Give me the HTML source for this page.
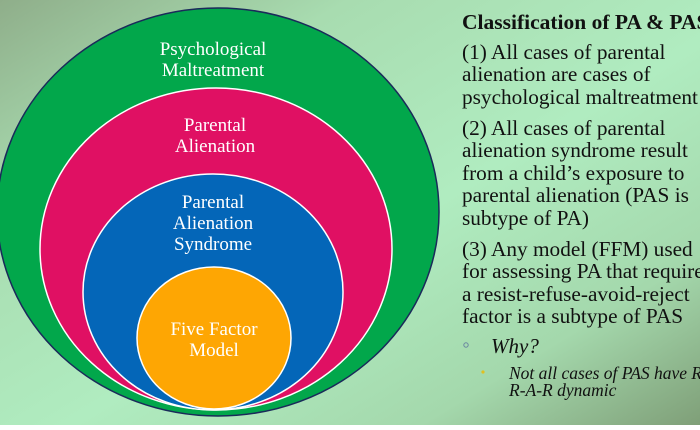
<!DOCTYPE html>
<html><head><meta charset="utf-8"><style>
html,body{margin:0;padding:0;}
body{width:700px;height:425px;overflow:hidden;}
</style></head><body>
<svg width="700" height="425" viewBox="0 0 700 425" xmlns="http://www.w3.org/2000/svg" font-family="Liberation Serif, serif">
<defs>
<linearGradient id="bg" x1="0" y1="0" x2="1" y2="1">
<stop offset="0" stop-color="#8fae8a"/>
<stop offset="0.25" stop-color="#a8dcb0"/>
<stop offset="0.55" stop-color="#b0ecc0"/>
<stop offset="0.8" stop-color="#a4d8ac"/>
<stop offset="1" stop-color="#7f9f78"/>
</linearGradient>
</defs>
<rect width="700" height="425" fill="url(#bg)"/>
<ellipse cx="218" cy="212" rx="221" ry="204" fill="#02a74b" stroke="#1a2a5a" stroke-width="1.5"/>
<ellipse cx="216" cy="249" rx="176" ry="161" fill="#e01063" stroke="#fff" stroke-width="1.5"/>
<ellipse cx="213" cy="292" rx="130" ry="118" fill="#0466b8" stroke="#fff" stroke-width="1.5"/>
<ellipse cx="214" cy="338" rx="77" ry="71" fill="#fea603" stroke="#fff" stroke-width="1.5"/>
<g fill="#fff" font-size="19" text-anchor="middle">
<text x="213" y="55">Psychological</text>
<text x="213" y="76">Maltreatment</text>
<text x="215" y="131">Parental</text>
<text x="215" y="152">Alienation</text>
<text x="213" y="208">Parental</text>
<text x="213" y="229">Alienation</text>
<text x="213" y="250">Syndrome</text>
<text x="214" y="335">Five Factor</text>
<text x="214" y="356">Model</text>
</g>
<g fill="#111" font-size="21.3">
<text x="462" y="29" font-weight="bold" font-size="21.5">Classification of PA &amp; PAS</text>
<text x="462" y="59">(1) All cases of parental</text>
<text x="462" y="81">alienation are cases of</text>
<text x="462" y="104">psychological maltreatment</text>
<text x="462" y="135">(2) All cases of parental</text>
<text x="462" y="157">alienation syndrome result</text>
<text x="462" y="180">from a child’s exposure to</text>
<text x="462" y="202">parental alienation (PAS is</text>
<text x="462" y="225">subtype of PA)</text>
<text x="462" y="256">(3) Any model (FFM) used</text>
<text x="462" y="278">for assessing PA that requires</text>
<text x="462" y="301">a resist-refuse-avoid-reject</text>
<text x="462" y="323">factor is a subtype of PAS</text>
<text x="491" y="353" font-style="italic" font-size="21">Why?</text>
<text x="509" y="379" font-style="italic" font-size="17.5">Not all cases of PAS have R-</text>
<text x="509" y="396" font-style="italic" font-size="17.5">R-A-R dynamic</text>
</g>
<circle cx="466" cy="345" r="2.2" fill="none" stroke="#6a86a0" stroke-width="1"/>
<circle cx="483" cy="372" r="1.6" fill="#e0c020"/>
</svg>
</body></html>
